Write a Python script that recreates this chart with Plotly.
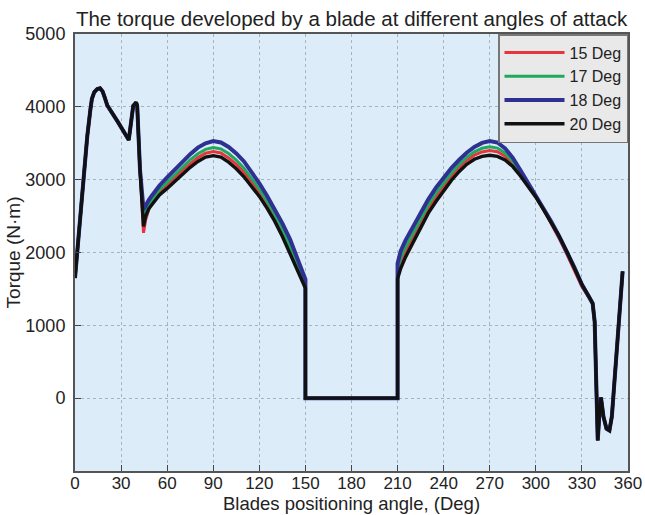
import plotly.graph_objects as go

# ---- data ----
series_names = ["15 Deg", "17 Deg", "18 Deg", "20 Deg"]

# shared first lobe (all angles of attack coincide)
angle_start = [0, 3, 6, 8, 10, 11, 12.5, 14.5, 16.3, 18, 19.5, 21, 28, 35, 37.9, 39.8, 40.5, 42.3]
torque_start = [1650, 2400, 3150, 3600, 3960, 4110, 4200, 4245, 4255, 4210, 4120, 4020, 3790, 3545, 4014, 4060, 4014, 3140]

# first arc (44.6 .. 150 deg)
angle_arc1 = [44.6, 46, 48, 50, 55, 60, 65, 70, 75, 80, 85, 90, 95, 100, 105, 110,
              115, 120, 125, 130, 135, 140, 145, 150]
arc1_15 = [2270, 2450, 2590, 2670, 2826, 2922, 3025, 3128, 3220, 3303, 3363, 3386, 3366, 3299, 3209, 3099,
           2966, 2820, 2658, 2478, 2270, 2036, 1790, 1544]
arc1_17 = [2480, 2584, 2667, 2727, 2863, 2964, 3070, 3175, 3271, 3356, 3416, 3442, 3422, 3358, 3268, 3158,
           3022, 2871, 2705, 2525, 2321, 2092, 1841, 1577]
arc1_18 = [2590, 2650, 2720, 2780, 2920, 3030, 3140, 3250, 3350, 3440, 3500, 3530, 3510, 3450, 3360, 3250,
           3110, 2950, 2780, 2600, 2400, 2180, 1920, 1630]
arc1_20 = [2360, 2500, 2600, 2660, 2790, 2880, 2980, 3080, 3170, 3250, 3310, 3330, 3310, 3240, 3150, 3040,
           2910, 2770, 2610, 2430, 2220, 1980, 1740, 1510]

# flat zero-torque section
angle_flat = [150, 210]
torque_flat = [0, 0]

# second arc (210 .. 335 deg)
angle_arc2 = [210, 212, 215, 220, 225, 230, 235, 240, 245, 250, 255, 260, 265, 270, 275, 280,
              285, 290, 295, 300, 305, 310, 315, 320, 325, 330, 335]
arc2_15 = [1709, 1859, 2006, 2203, 2406, 2603, 2763, 2909, 3046, 3163, 3263, 3336, 3381, 3399, 3383, 3323,
           3220, 3076, 2926, 2770, 2593, 2400, 2200, 1985, 1765, 1530, 1370]
arc2_17 = [1766, 1924, 2068, 2262, 2460, 2654, 2814, 2958, 3092, 3206, 3306, 3382, 3431, 3452, 3434, 3366,
           3252, 3098, 2940, 2778, 2596, 2423, 2230, 2020, 1800, 1560, 1380]
arc2_18 = [1850, 2020, 2160, 2350, 2540, 2730, 2890, 3030, 3160, 3270, 3370, 3450, 3505, 3530, 3510, 3430,
           3300, 3130, 2960, 2790, 2600, 2425, 2230, 2020, 1800, 1560, 1380]
arc2_20 = [1640, 1780, 1930, 2130, 2340, 2540, 2700, 2850, 2990, 3110, 3210, 3280, 3320, 3335, 3320, 3270,
           3180, 3050, 2910, 2760, 2590, 2420, 2230, 2020, 1800, 1560, 1380]

# shared final dip
angle_end = [337, 338.3, 339.3, 340.3, 341.3, 342.4, 344, 346, 347.9, 349.5, 356.5]
torque_end = [1300, 1050, 300, -580, -250, 10, -250, -420, -445, -250, 1740]

x_ticks = [0, 30, 60, 90, 120, 150, 180, 210, 240, 270, 300, 330, 360]
y_ticks = [0, 1000, 2000, 3000, 4000, 5000]

colors = {"15 Deg": "#e8343c", "17 Deg": "#1fa85e", "18 Deg": "#2e3192", "20 Deg": "#111111"}
widths = {"15 Deg": 3, "17 Deg": 3, "18 Deg": 4, "20 Deg": 3.4}

arcs1 = {"15 Deg": arc1_15, "17 Deg": arc1_17, "18 Deg": arc1_18, "20 Deg": arc1_20}
arcs2 = {"15 Deg": arc2_15, "17 Deg": arc2_17, "18 Deg": arc2_18, "20 Deg": arc2_20}

FONT = "Liberation Sans, Arial, sans-serif"

fig = go.Figure()
for name in series_names:
    xs = angle_start + angle_arc1 + angle_flat + angle_arc2 + angle_end
    ys = torque_start + arcs1[name] + torque_flat + arcs2[name] + torque_end
    fig.add_trace(go.Scatter(
        x=xs, y=ys, mode="lines", name=name,
        line=dict(color=colors[name], width=widths[name]),
    ))

fig.update_layout(
    width=645, height=515,
    margin=dict(l=75, r=17, t=34, b=44, autoexpand=False),
    paper_bgcolor="white",
    plot_bgcolor="#dcedf9",
    font=dict(family=FONT, size=18, color="#222222"),
    title=dict(text="The torque developed by a blade at different angles of attack",
               x=0.545, xanchor="center", y=0.963, yanchor="middle",
               font=dict(size=20.5, color="#222222")),
    showlegend=True,
    legend=dict(
        x=1, y=1, xanchor="right", yanchor="top",
        bgcolor="#e9e9e9", bordercolor="#777777", borderwidth=1.5,
        font=dict(size=16, color="#222222"),
        itemwidth=60, tracegroupgap=0,
    ),
)

fig.update_xaxes(
    range=[0, 360], tickmode="array", tickvals=x_ticks,
    ticks="inside", ticklen=6, tickcolor="#444444",
    showline=True, linecolor="#555555", linewidth=2, mirror=True,
    showgrid=True, gridcolor="#a8b4bd", griddash="dot", gridwidth=1,
    zeroline=False, automargin=False,
    title=dict(text="Blades positioning angle, (Deg)", font=dict(size=18.5), standoff=2),
    tickfont=dict(size=17),
    ticklabelstandoff=-4,
)
fig.update_yaxes(
    range=[-1000, 5000], tickmode="array", tickvals=y_ticks,
    ticks="inside", ticklen=6, tickcolor="#444444",
    showline=True, linecolor="#555555", linewidth=2, mirror=True,
    showgrid=True, gridcolor="#a8b4bd", griddash="dot", gridwidth=1,
    zeroline=False, automargin=False,
    title=dict(text="Torque (N·m)", font=dict(size=19), standoff=0),
    tickfont=dict(size=18),
    ticklabelstandoff=4,
)

fig.write_html("out.html", config={"displayModeBar": False},
               post_script="document.body.style.margin='0px';")
